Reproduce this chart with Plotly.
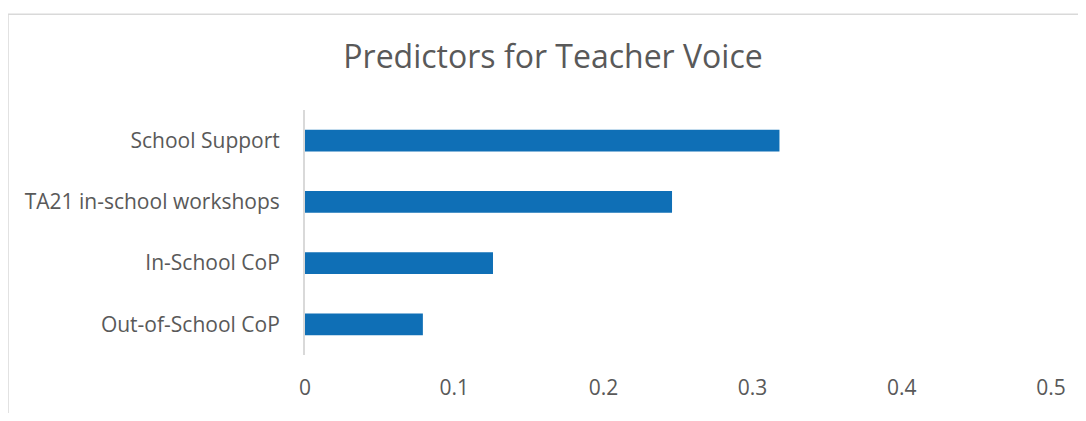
import plotly.graph_objects as go

predictors = ["School Support", "TA21 in-school workshops", "In-School CoP", "Out-of-School CoP"]
coefs = [0.318, 0.246, 0.126, 0.079]
x_ticks = [0, 0.1, 0.2, 0.3, 0.4, 0.5]
x_labels = ["0", "0.1", "0.2", "0.3", "0.4", "0.5"]

BAR_COLOR = "#0F6FB6"
TEXT_COLOR = "#595959"

fig = go.Figure()
fig.add_trace(
    go.Bar(
        x=coefs,
        y=predictors,
        orientation="h",
        marker_color=BAR_COLOR,
        marker_line_width=0,
        showlegend=False,
    )
)

# page has an 8px body margin, so the figure is drawn at (8, 8)
OFF = 8
W, H = 1086 - 2 * OFF, 421 - 2 * OFF
left, top = 305 - OFF, 110 - OFF
right = W - (1051 - OFF)
bottom = H - (363 - OFF)
pw, ph = W - left - right, H - top - bottom


def px_x(p):
    return (p - OFF - left) / pw


def px_y(p):
    return (H - bottom - (p - OFF)) / ph


# chart frame (only top and left edges visible in the crop)
fig.add_shape(type="line", xref="paper", yref="paper",
              x0=px_x(8), x1=px_x(1100), y0=px_y(11), y1=px_y(11),
              line=dict(color="#D9D9D9", width=1.5))
fig.add_shape(type="line", xref="paper", yref="paper",
              x0=px_x(8), x1=px_x(8), y0=px_y(11), y1=px_y(430),
              line=dict(color="#D9D9D9", width=1.5))

fig.update_layout(
    width=W,
    height=H,
    margin=dict(l=left, r=right, t=top, b=bottom, pad=0),
    paper_bgcolor="white",
    plot_bgcolor="white",
    bargap=0.645,
    font=dict(family="Open Sans", color=TEXT_COLOR),
    title=dict(
        text="Predictors for Teacher Voice",
        x=px_x(553),
        xref="paper",
        xanchor="center",
        y=1 - (57 - OFF) / H,
        yanchor="middle",
        font=dict(size=32, color=TEXT_COLOR),
    ),
    xaxis=dict(
        range=[0, 0.5],
        tickvals=x_ticks,
        ticktext=x_labels,
        showgrid=False,
        zeroline=False,
        showline=False,
        ticks="",
        ticklabelstandoff=18,
        tickfont=dict(size=21, color=TEXT_COLOR),
    ),
    yaxis=dict(
        categoryorder="array",
        categoryarray=predictors[::-1],
        showgrid=False,
        zeroline=False,
        showline=True,
        linecolor="#D9D9D9",
        linewidth=2,
        ticks="",
        ticklabelstandoff=19,
        tickfont=dict(size=21, color=TEXT_COLOR),
    ),
)

fig.write_html("out.html")
